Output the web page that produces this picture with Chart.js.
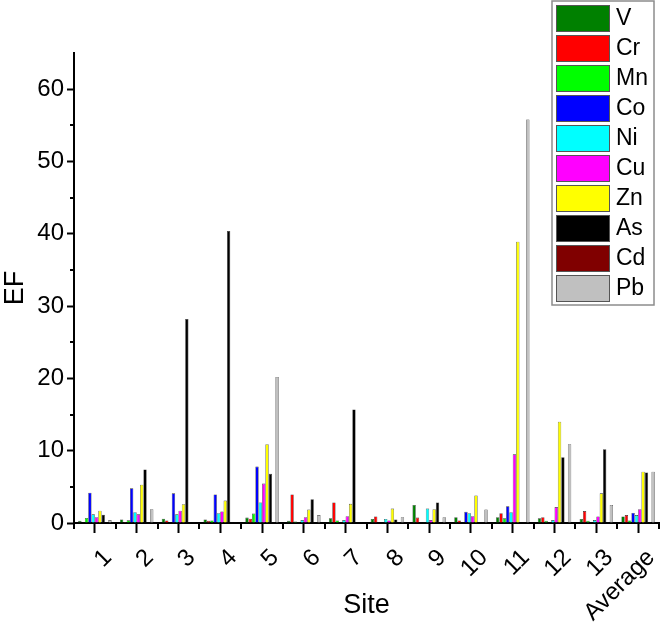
<!DOCTYPE html>
<html>
<head>
<meta charset="utf-8">
<script src="https://cdn.jsdelivr.net/npm/chart.js@4.4.1/dist/chart.umd.min.js"></script>
<style>
  html, body { margin: 0; padding: 0; background: #fff; }
  #wrap { width: 663px; height: 632px; position: relative; }
</style>
</head>
<body>
<div id="wrap"><canvas id="ef-chart"></canvas></div>
<script>
const sites = ['1', '2', '3', '4', '5', '6', '7', '8', '9', '10', '11', '12', '13', 'Average'];
const metals = ['V', 'Cr', 'Mn', 'Co', 'Ni', 'Cu', 'Zn', 'As', 'Cd', 'Pb'];
const metalColors = ['#008000', '#ff0000', '#00ff00', '#0000ff', '#00ffff', '#ff00ff', '#ffff00', '#000000', '#800000', '#c0c0c0'];

const efV  = [0.3, 0.5, 0.6, 0.5, 0.75, 0.3, 0.65, 0.55, 2.5, 0.8, 0.8, 0.65, 0.55, 0.9];
const efCr = [0.1, 0.15, 0.35, 0.3, 0.6, 3.95, 2.85, 0.9, 0.75, 0.35, 1.35, 0.8, 1.65, 1.1];
const efMn = [0.7, 0.37, 0.1, 0.35, 1.3, 0.2, 0.35, 0.05, 0.05, 0.1, 0.65, 0.3, 0.3, 0.35];
const efCo = [4.2, 4.8, 4.1, 3.95, 7.8, 0.05, 0.05, 0.05, 0.05, 1.55, 2.3, 0.05, 0.05, 1.4];
const efNi = [1.2, 1.5, 1.2, 1.35, 2.85, 0.4, 0.4, 0.55, 2.0, 1.35, 1.5, 0.4, 0.4, 1.1];
const efCu = [0.8, 1.2, 1.7, 1.6, 5.45, 0.8, 0.95, 0.35, 0.4, 0.95, 9.5, 2.2, 0.9, 1.9];
const efZn = [1.7, 5.3, 2.6, 3.1, 10.9, 1.85, 2.65, 2.0, 1.9, 3.8, 38.9, 14.0, 4.1, 7.1];
const efAs = [1.15, 7.4, 28.2, 40.4, 6.8, 3.3, 15.7, 0.5, 2.85, 0.1, 0.1, 9.1, 10.2, 7.0];
const efCd = [0.05, 0.05, 0.05, 0.05, 0.05, 0.05, 0.05, 0.05, 0.05, 0.05, 0.05, 0.05, 0.05, 0.05];
const efPb = [0.4, 1.9, 0.1, 0.1, 20.2, 1.1, 0.1, 0.8, 0.8, 1.85, 55.8, 10.9, 2.5, 7.1];

const seriesValues = [efV, efCr, efMn, efCo, efNi, efCu, efZn, efAs, efCd, efPb];

const FONT = "'Liberation Sans', Arial, sans-serif";

// minor ticks, rotated site labels and the boxed legend over the plot (Origin style)
const originExtras = {
    id: 'originExtras',
    afterDraw(chart) {
        const { ctx, chartArea, scales: { x, y } } = chart;
        ctx.save();
        ctx.strokeStyle = '#000';
        ctx.lineWidth = 2;
        ctx.beginPath();
        for (let i = 0; i <= sites.length; i++) {
            const px = Math.round(x.getPixelForValue(i - 0.5));
            ctx.moveTo(px, chartArea.bottom);
            ctx.lineTo(px, chartArea.bottom + 6);
        }
        for (let v = 5; v < 65; v += 10) {
            const py = Math.round(y.getPixelForValue(v));
            ctx.moveTo(chartArea.left, py);
            ctx.lineTo(chartArea.left - 4, py);
        }
        ctx.stroke();

        // site labels, 45 degrees, text end just right of the tick
        ctx.fillStyle = '#000';
        ctx.font = '24px ' + FONT;
        ctx.textAlign = 'right';
        ctx.textBaseline = 'middle';
        sites.forEach((s, i) => {
            const px = x.getPixelForValue(i);
            ctx.save();
            ctx.translate(px + 13, chartArea.bottom + 31);
            ctx.rotate(-Math.PI / 4);
            ctx.fillText(s, 0, 0);
            ctx.restore();
        });

        // legend
        const lx = 552, ly = 1, lw = 102, lh = 304;
        ctx.fillStyle = '#fff';
        ctx.fillRect(lx, ly, lw, lh);
        ctx.lineWidth = 1.5;
        ctx.strokeStyle = '#8c8c8c';
        ctx.strokeRect(lx, ly, lw, lh);
        ctx.font = '23px ' + FONT;
        ctx.textBaseline = 'middle';
        ctx.textAlign = 'left';
        chart.data.datasets.forEach((ds, i) => {
            const top = ly + 4 + i * 30;
            ctx.fillStyle = ds.backgroundColor;
            ctx.fillRect(lx + 4, top, 54, 27);
            ctx.lineWidth = 1;
            ctx.strokeStyle = '#555';
            ctx.strokeRect(lx + 4.5, top + 0.5, 53, 26);
            ctx.fillStyle = '#000';
            ctx.fillText(ds.label, lx + 64, top + 14);
        });
        ctx.restore();
    }
};

new Chart(document.getElementById('ef-chart'), {
    type: 'bar',
    data: {
        labels: sites,
        datasets: metals.map((m, i) => ({
            label: m,
            data: seriesValues[i],
            backgroundColor: metalColors[i],
            borderColor: '#333',
            borderWidth: 0.6,
            categoryPercentage: 0.8,
            barPercentage: 1.0
        }))
    },
    options: {
        responsive: true,
        maintainAspectRatio: false,
        animation: false,
        layout: { padding: { top: 53, right: 4, left: 0, bottom: 0 } },
        plugins: {
            legend: { display: false },
            tooltip: { enabled: false }
        },
        scales: {
            x: {
                afterFit: s => { s.height = 109; },
                grid: {
                    offset: false,
                    drawOnChartArea: false,
                    drawTicks: true,
                    tickLength: 10,
                    tickWidth: 2,
                    tickColor: '#000'
                },
                border: { display: true, color: '#000', width: 2 },
                ticks: { display: false, autoSkip: false },
                title: {
                    display: true,
                    text: 'Site',
                    color: '#000',
                    font: { family: FONT, size: 27 },
                    padding: { top: 0, bottom: 10 }
                }
            },
            y: {
                min: 0,
                max: 65,
                afterFit: s => { s.width = 74; },
                afterBuildTicks: s => { s.ticks = s.ticks.filter(t => t.value % 10 === 0); },
                grid: {
                    drawOnChartArea: false,
                    drawTicks: true,
                    tickLength: 7,
                    tickWidth: 2,
                    tickColor: '#000'
                },
                border: { display: true, color: '#000', width: 2 },
                ticks: {
                    stepSize: 10,
                    padding: 3,
                    color: '#000',
                    font: { family: FONT, size: 24 }
                },
                title: {
                    display: true,
                    text: 'EF',
                    color: '#000',
                    font: { family: FONT, size: 27, lineHeight: 1 },
                    padding: { top: 2, bottom: 0 }
                }
            }
        }
    },
    plugins: [originExtras]
});
</script>
</body>
</html>
